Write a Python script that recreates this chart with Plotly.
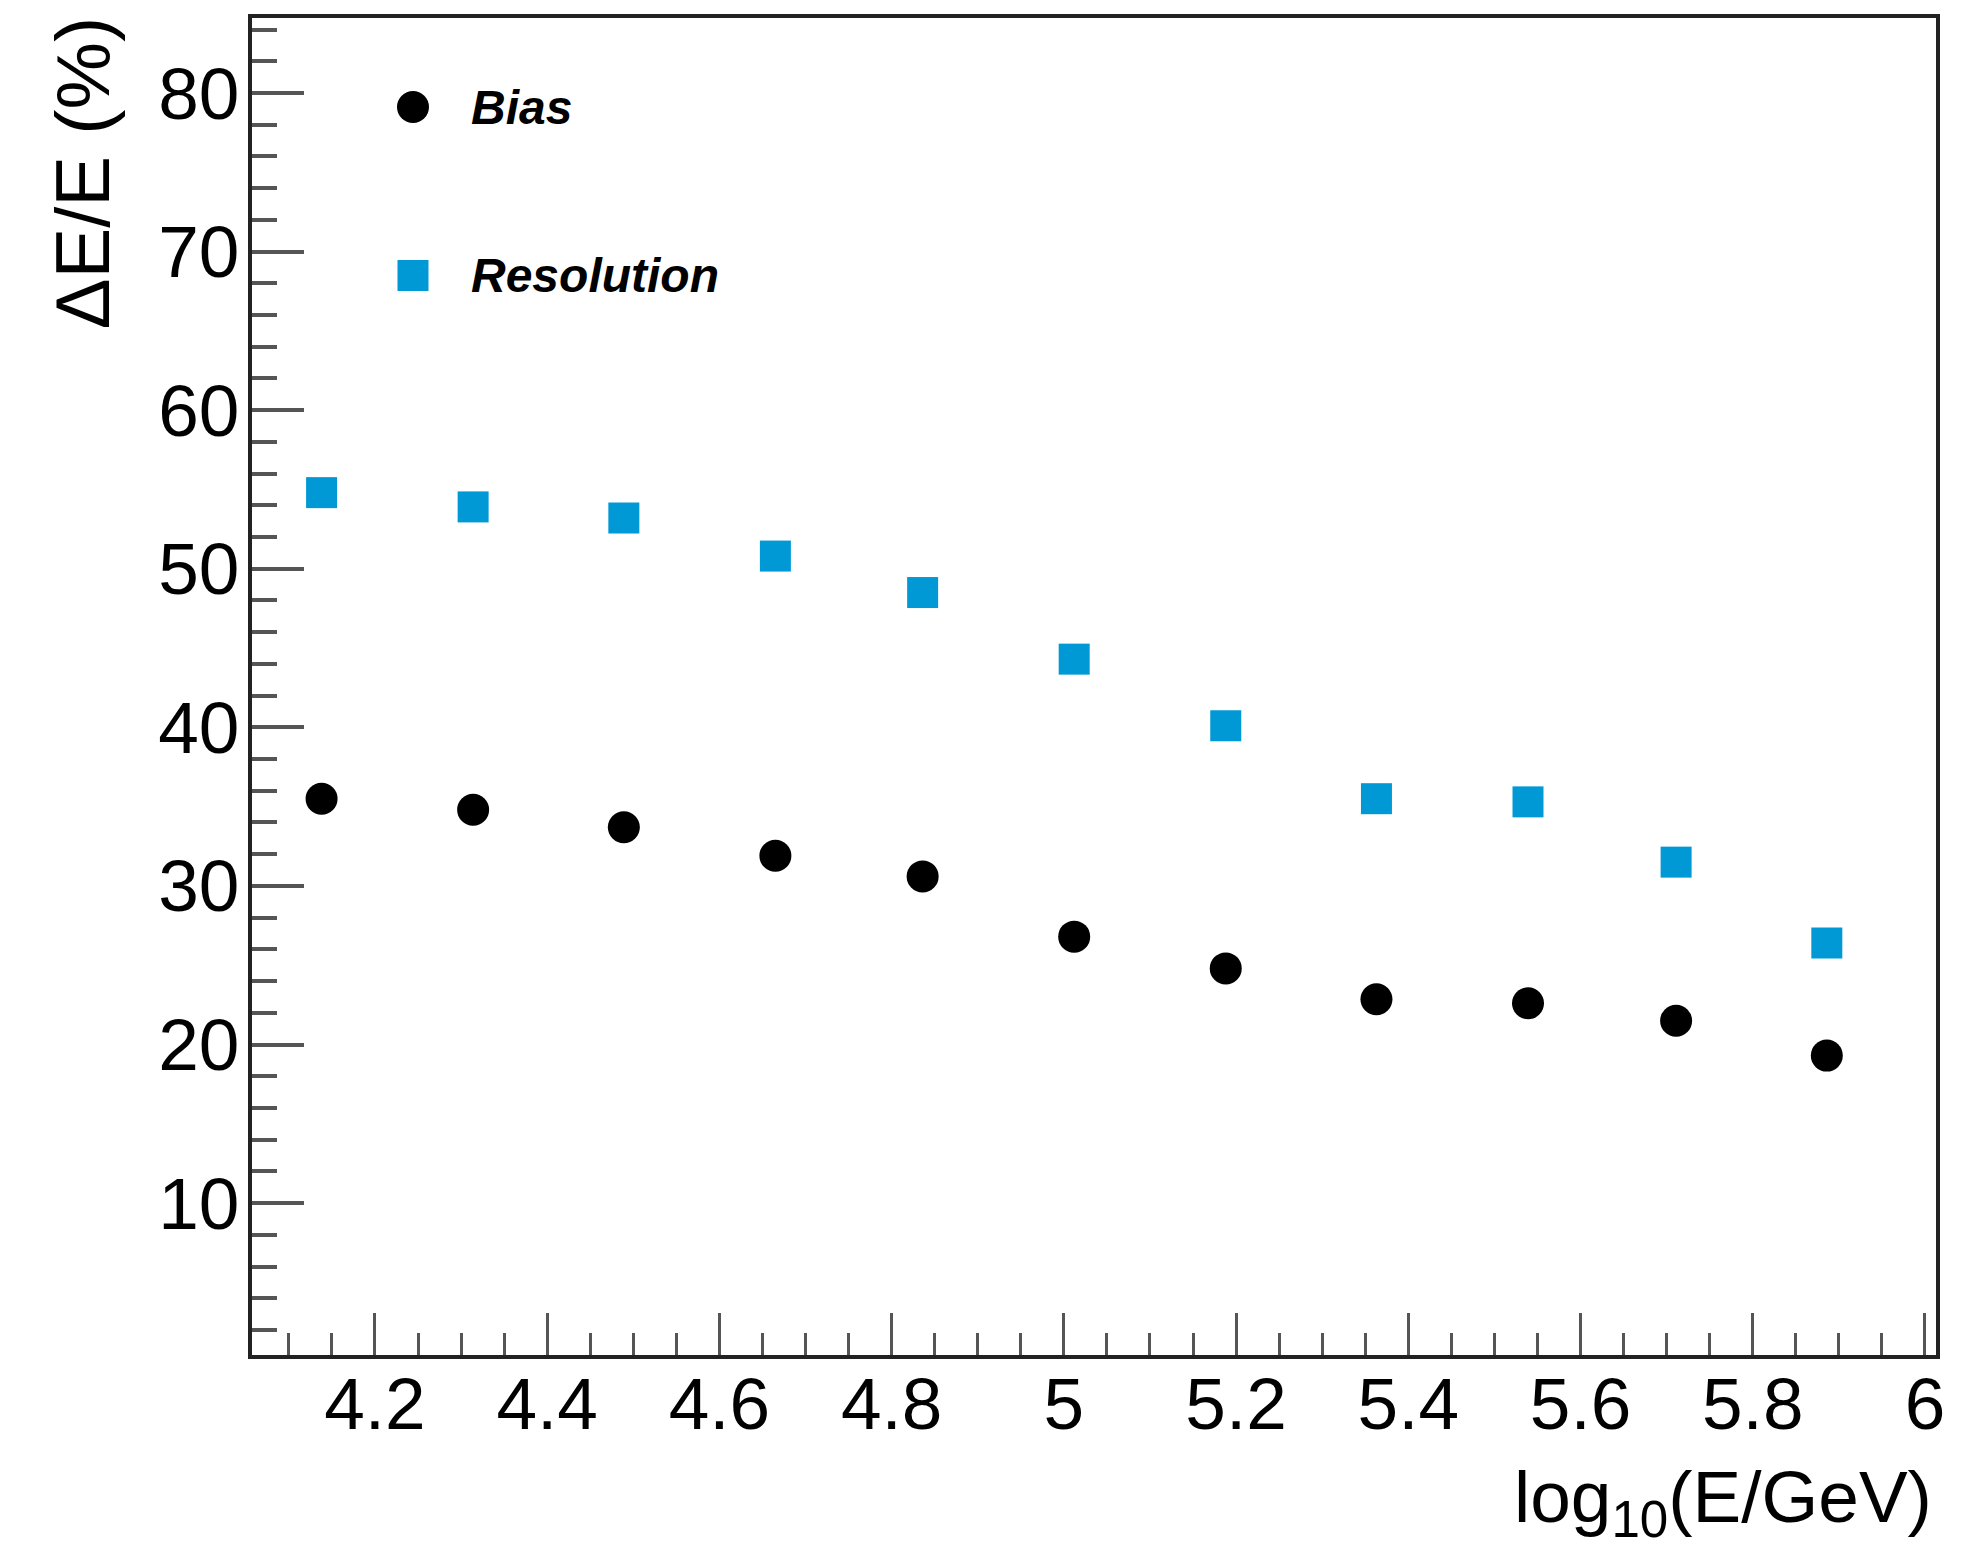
import plotly.graph_objects as go

# Energy bins: log10(E/GeV) bin centres
log_energy = [4.138, 4.314, 4.489, 4.665, 4.836, 5.012, 5.188, 5.363, 5.539, 5.711, 5.886]

# Relative energy bias and resolution, in percent
bias = [35.5, 34.8, 33.7, 31.9, 30.6, 26.8, 24.8, 22.85, 22.6, 21.5, 19.3]
resolution = [54.8, 53.9, 53.2, 50.8, 48.5, 44.3, 40.1, 35.5, 35.3, 31.5, 26.4]

series_names = ["Bias", "Resolution"]
x_tick_values = [4.2, 4.4, 4.6, 4.8, 5.0, 5.2, 5.4, 5.6, 5.8, 6.0]
x_tick_labels = ["4.2", "4.4", "4.6", "4.8", "5", "5.2", "5.4", "5.6", "5.8", "6"]
y_tick_values = [10, 20, 30, 40, 50, 60, 70, 80]

BLUE = "#0099d6"
FONT = "Liberation Sans, Arial, Helvetica, sans-serif"

W, H = 1967, 1547
M_L, M_R, M_T, M_B = 252, 31, 18, 192

fig = go.Figure()

fig.add_trace(go.Scatter(
    x=log_energy, y=bias, mode="markers", name=series_names[0],
    marker=dict(symbol="circle", size=32, color="black"),
    showlegend=False,
))
fig.add_trace(go.Scatter(
    x=log_energy, y=resolution, mode="markers", name=series_names[1],
    marker=dict(symbol="square", size=31, color=BLUE),
    showlegend=False,
))

# Legend keys drawn on a unit-range overlay axis
legend_key_x = [0.0956, 0.0956]
legend_key_y = [0.9334, 0.8074]
fig.add_trace(go.Scatter(
    x=legend_key_x[:1], y=legend_key_y[:1], xaxis="x2", yaxis="y2",
    mode="markers", marker=dict(symbol="circle", size=32, color="black"),
    showlegend=False, hoverinfo="skip",
))
fig.add_trace(go.Scatter(
    x=legend_key_x[1:], y=legend_key_y[1:], xaxis="x2", yaxis="y2",
    mode="markers", marker=dict(symbol="square", size=31, color=BLUE),
    showlegend=False, hoverinfo="skip",
))

annotations = []
for name, ky in zip(series_names, legend_key_y):
    annotations.append(dict(
        xref="paper", yref="paper", x=0.1289, y=ky,
        xanchor="left", yanchor="middle", showarrow=False,
        text=f"<b><i>{name}</i></b>",
        font=dict(family=FONT, size=48, color="black"),
    ))

# Axis titles (y at top, x at right, as in ROOT)
annotations.append(dict(
    xref="paper", yref="paper", x=-0.1005, y=1.003,
    xanchor="center", yanchor="top", textangle=-90, showarrow=False,
    text="ΔE/E (%)", font=dict(family=FONT, size=76, color="black"),
))
annotations.append(dict(
    xref="paper", yref="paper", x=0.9988, y=-0.074,
    xanchor="right", yanchor="top", showarrow=False,
    text="log<sub>10</sub>(E/GeV)", font=dict(family=FONT, size=73, color="black"),
))

fig.update_layout(
    width=W, height=H,
    margin=dict(l=M_L, r=M_R, t=M_T, b=M_B, pad=0),
    paper_bgcolor="white", plot_bgcolor="white",
    font=dict(family=FONT, color="black"),
    annotations=annotations,
    xaxis=dict(
        range=[4.0572, 6.0128],
        tickmode="array", tickvals=x_tick_values, ticktext=x_tick_labels,
        ticks="inside", ticklen=42, tickwidth=3, tickcolor="#555",
        tickfont=dict(family=FONT, size=73, color="black"),
        ticklabelstandoff=-18,
        minor=dict(dtick=0.05, ticks="inside", ticklen=22, tickwidth=3, tickcolor="#555", showgrid=False),
        showgrid=False, zeroline=False,
        showline=True, linecolor="#222", linewidth=4, mirror=True,
    ),
    yaxis=dict(
        range=[0.42, 84.73],
        tickmode="array", tickvals=y_tick_values,
        ticks="inside", ticklen=52, tickwidth=4, tickcolor="#555",
        tickfont=dict(family=FONT, size=73, color="black"),
        ticklabelstandoff=-6,
        minor=dict(dtick=2, ticks="inside", ticklen=25, tickwidth=4, tickcolor="#555", showgrid=False),
        showgrid=False, zeroline=False,
        showline=True, linecolor="#222", linewidth=4, mirror=True,
    ),
    xaxis2=dict(range=[0, 1], overlaying="x", visible=False, fixedrange=True),
    yaxis2=dict(range=[0, 1], overlaying="y", visible=False, fixedrange=True),
)

fig.write_html("out.html")
